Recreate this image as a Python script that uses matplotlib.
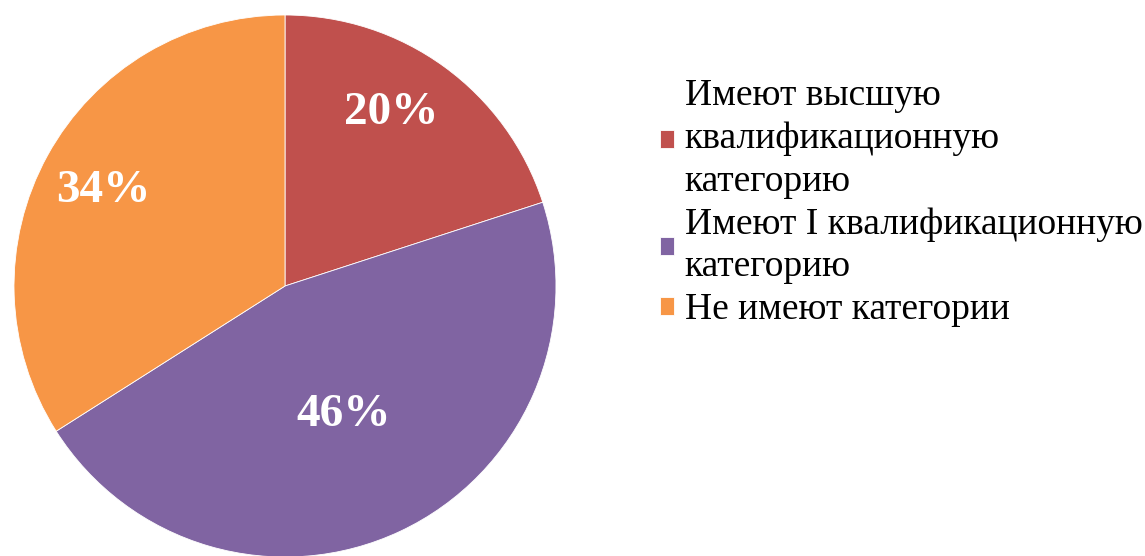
import matplotlib
matplotlib.use("Agg")
import matplotlib.pyplot as plt
import numpy as np

labels = ["Имеют высшую\nквалификационную\nкатегорию",
          "Имеют I квалификационную\nкатегорию",
          "Не имеют категории"]
values = [20, 46, 34]
colors = ["#C0504D", "#8064A2", "#F79646"]
label_dist = [0.766, 0.507, 0.763]
label_angle_shift = [5.3, 0.0, 0.0]

plt.rcParams['font.family'] = ['Liberation Serif', 'DejaVu Serif']

W, H = 1145, 556
fig = plt.figure(figsize=(W / 100, H / 100), dpi=100)
cx, cy, r = 285, 286, 271
ax = fig.add_axes([(cx - r) / W, (H - cy - r) / H, 2 * r / W, 2 * r / H])
wedges, texts, autotexts = ax.pie(values, colors=colors, startangle=90, counterclock=False,
                                  autopct='%d%%', pctdistance=0.765,
                                  wedgeprops=dict(edgecolor='white', linewidth=0.6),
                                  textprops=dict(color='white', fontsize=34, fontweight='bold'))
ax.set_xlim(-1, 1)
ax.set_ylim(-1, 1)
ax.set_aspect('equal')

for w, t, d, s in zip(wedges, autotexts, label_dist, label_angle_shift):
    ang = np.deg2rad((w.theta1 + w.theta2) / 2 + s)
    t.set_position((d * np.cos(ang), d * np.sin(ang)))
    t.set_va('center_baseline')
    t.set_ha('center')

leg = fig.legend(wedges, labels, loc='center left', bbox_to_anchor=(660 / W, (H - 203) / H),
                 frameon=False, fontsize=27, handlelength=0.36, handleheight=0.36,
                 handletextpad=0.3, labelspacing=0.22, borderaxespad=0, borderpad=0)
for t in leg.get_texts():
    t.set_linespacing(1.31)

fig.savefig("out.png", dpi=100)
